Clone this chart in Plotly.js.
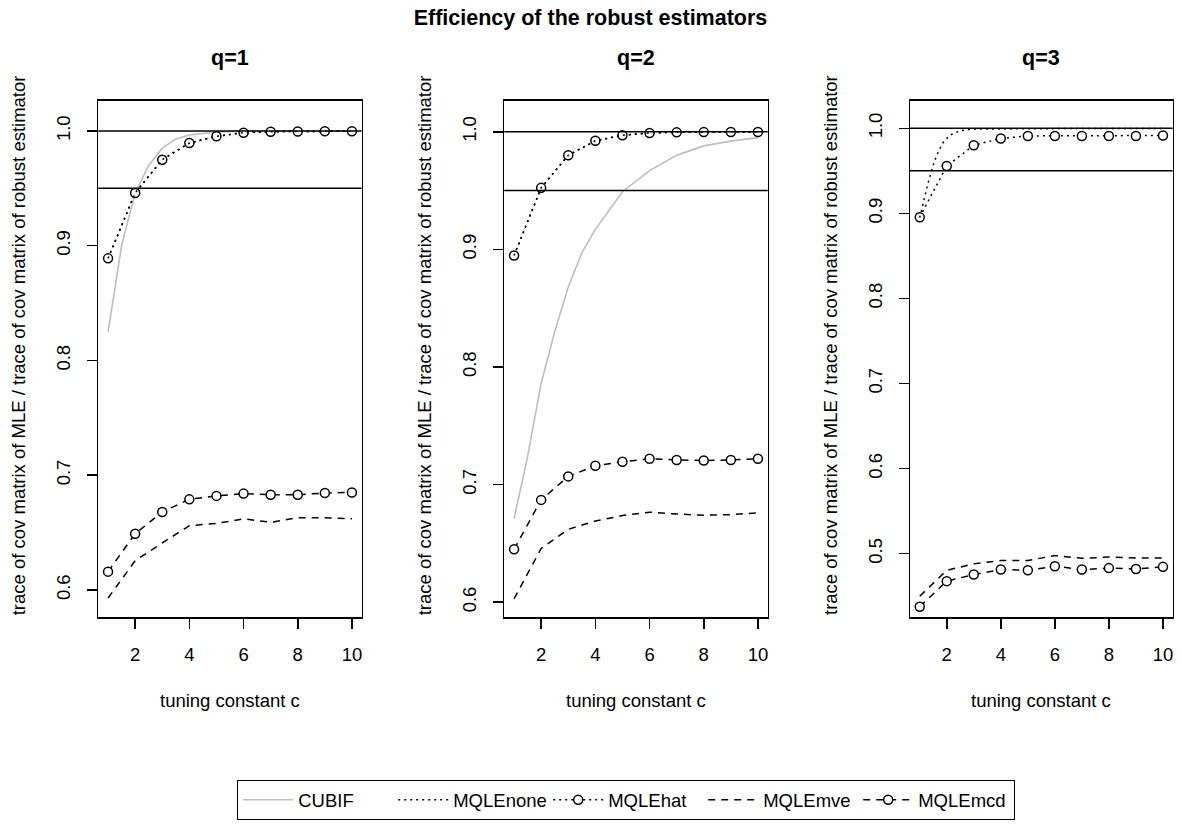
<!DOCTYPE html>
<html>
<head>
<meta charset="utf-8">
<script src="https://cdn.plot.ly/plotly-3.0.1.min.js"></script>
<style>html,body{margin:0;padding:0;background:#fff;}</style>
</head>
<body>
<div id="chart" style="width:1181px;height:827px;"></div>
<script>
// ---- data ----
const cVals = [1, 2, 3, 4, 5, 6, 7, 8, 9, 10];

// q = 1
const q1CubifC = [1, 1.5, 2, 2.5, 3, 3.5, 4, 5, 6, 7, 8, 9, 10];
const q1Cubif  = [0.825, 0.900, 0.946, 0.970, 0.985, 0.993, 0.9965, 0.999, 1.0, 1.0, 1.0, 1.0, 1.0];
const q1None   = [0.889, 0.946, 0.975, 0.9895, 0.9954, 0.9985, 0.9994, 0.9996, 0.9998, 0.9998];
const q1Hat    = [0.889, 0.946, 0.975, 0.9895, 0.9954, 0.9985, 0.9994, 0.9996, 0.9998, 0.9998];
const q1Mve    = [0.593, 0.6255, 0.641, 0.656, 0.658, 0.662, 0.659, 0.663, 0.663, 0.662];
const q1Mcd    = [0.616, 0.649, 0.668, 0.679, 0.682, 0.684, 0.683, 0.683, 0.6845, 0.685];

// q = 2
const q2CubifC = [1, 1.5, 2, 2.5, 3, 3.5, 4, 5, 6, 7, 8, 9, 10];
const q2Cubif  = [0.671, 0.724, 0.786, 0.830, 0.868, 0.897, 0.917, 0.949, 0.967, 0.980, 0.988, 0.992, 0.995];
const q2None   = [0.8948, 0.9523, 0.980, 0.9923, 0.997, 0.999, 0.9995, 0.9997, 0.9998, 0.9998];
const q2Hat    = [0.8948, 0.9523, 0.980, 0.9923, 0.997, 0.999, 0.9995, 0.9997, 0.9998, 0.9998];
const q2Mve    = [0.603, 0.6457, 0.662, 0.669, 0.6737, 0.6766, 0.675, 0.674, 0.6745, 0.676];
const q2Mcd    = [0.645, 0.687, 0.707, 0.716, 0.7195, 0.722, 0.721, 0.7205, 0.721, 0.722];

// q = 3
const q3NoneC  = [1, 1.14, 1.23, 1.32, 1.45, 1.54, 1.69, 1.88, 2.12, 2.49, 2.92, 4, 5, 6, 7, 8, 9, 10];
const q3None   = [0.895, 0.916, 0.9255, 0.937, 0.951, 0.961, 0.9725, 0.984, 0.992, 0.997, 0.999, 0.9995, 0.9996, 0.9996, 0.9996, 0.9996, 0.9996, 0.9996];
const q3Hat    = [0.8955, 0.9557, 0.980, 0.988, 0.991, 0.991, 0.991, 0.991, 0.991, 0.9915];
const q3Mve    = [0.450, 0.4805, 0.488, 0.492, 0.492, 0.4977, 0.4945, 0.496, 0.495, 0.495];
const q3Mcd    = [0.4377, 0.4677, 0.4755, 0.4813, 0.4805, 0.4852, 0.4813, 0.483, 0.482, 0.4845];

const panelTitles = ['q=1', 'q=2', 'q=3'];
const seriesNames = ['CUBIF', 'MQLEnone', 'MQLEhat', 'MQLEmve', 'MQLEmcd'];
const xTickVals = [2, 4, 6, 8, 10];
const yTickVals1 = [0.6, 0.7, 0.8, 0.9, 1.0];
const yTickVals3 = [0.5, 0.6, 0.7, 0.8, 0.9, 1.0];
const refLevels = [1.0, 0.95];

// ---- styling ----
const W = 1181, H = 827;
const FONT = 'Liberation Sans, Arial, Helvetica, sans-serif';
const FS = 18.5, FT = 21.5;
const DOT = '2px,4px';
const DASH = '7px,6px';
const markerStyle = {symbol: 'circle', size: 9, color: 'white', line: {color: 'black', width: 1.5}};

function px2x(p) { return p / W; }
function px2y(p) { return 1 - p / H; }

const panels = [
  {xl: 98.3, xr: 361.7, yr: [0.5762, 1.0264], yt: yTickVals1},
  {xl: 504.3, xr: 767.7, yr: [0.5872, 1.0264], yt: yTickVals1},
  {xl: 910.0, xr: 1172.7, yr: [0.4252, 1.0324], yt: yTickVals3}
];
const plotTop = 100.7, plotBottom = 617.3;

const data = [];
function addTraces(k, cub, cubC, noneC, none, hat, mve, mcd) {
  const xa = k === 0 ? 'x' : 'x' + (k + 1);
  const ya = k === 0 ? 'y' : 'y' + (k + 1);
  const show = k === 0;
  if (cub) {
    data.push({x: cubC, y: cub, xaxis: xa, yaxis: ya, type: 'scatter', mode: 'lines',
      name: seriesNames[0], legendrank: 1, showlegend: show,
      line: {color: '#bebebe', width: 1.6}});
  }
  data.push({x: cVals, y: hat, xaxis: xa, yaxis: ya, type: 'scatter', mode: 'lines+markers',
    name: seriesNames[2], legendrank: 3, showlegend: show,
    line: {color: 'black', width: 1.5, dash: DOT}, marker: markerStyle});
  data.push({x: noneC, y: none, xaxis: xa, yaxis: ya, type: 'scatter', mode: 'lines',
    name: seriesNames[1], legendrank: 2, showlegend: show,
    line: {color: 'black', width: 1.5, dash: DOT}});
  data.push({x: cVals, y: mve, xaxis: xa, yaxis: ya, type: 'scatter', mode: 'lines',
    name: seriesNames[3], legendrank: 4, showlegend: show,
    line: {color: 'black', width: 1.5, dash: DASH}});
  data.push({x: cVals, y: mcd, xaxis: xa, yaxis: ya, type: 'scatter', mode: 'lines+markers',
    name: seriesNames[4], legendrank: 5, showlegend: show,
    line: {color: 'black', width: 1.5, dash: DASH}, marker: markerStyle});
}
addTraces(0, q1Cubif, q1CubifC, cVals, q1None, q1Hat, q1Mve, q1Mcd);
addTraces(1, q2Cubif, q2CubifC, cVals, q2None, q2Hat, q2Mve, q2Mcd);
addTraces(2, null, null, q3NoneC, q3None, q3Hat, q3Mve, q3Mcd);

const layout = {
  width: W, height: H,
  margin: {l: 0, r: 0, t: 0, b: 0},
  paper_bgcolor: 'white', plot_bgcolor: 'white',
  font: {family: FONT, size: FS, color: 'black'},
  title: {text: '<b>Efficiency of the robust estimators</b>', x: 0.5, xanchor: 'center',
          y: 1 - 17 / H, yanchor: 'middle', yref: 'container', font: {family: FONT, size: FT, color: 'black'}},
  showlegend: true,
  legend: {orientation: 'h', x: px2x(237), y: px2y(800), xanchor: 'left', yanchor: 'middle',
           bordercolor: 'black', borderwidth: 1.2, bgcolor: 'white', itemwidth: 50,
           entrywidth: 90, entrywidthmode: 'pixels',
           font: {family: FONT, size: FS, color: 'black'}, traceorder: 'normal'},
  shapes: [],
  annotations: []
};

panels.forEach((p, k) => {
  const sx = k === 0 ? '' : String(k + 1);
  layout['xaxis' + sx] = {
    domain: [px2x(p.xl), px2x(p.xr)], anchor: 'y' + sx, range: [0.64, 10.36],
    tickvals: xTickVals, ticks: 'outside', ticklen: 10, tickwidth: 1.5, tickcolor: 'black',
    ticklabelstandoff: 10,
    showline: true, mirror: true, linecolor: 'black', linewidth: 1.5,
    showgrid: false, zeroline: false, tickfont: {family: FONT, size: FS, color: 'black'}
  };
  layout['yaxis' + sx] = {
    domain: [px2y(plotBottom), px2y(plotTop)], anchor: 'x' + sx, range: p.yr,
    tickvals: p.yt, tickformat: '.1f', tickangle: -90,
    ticks: 'outside', ticklen: 10, tickwidth: 1.5, tickcolor: 'black',
    ticklabelstandoff: 9,
    showline: true, mirror: true, linecolor: 'black', linewidth: 1.5,
    showgrid: false, zeroline: false, tickfont: {family: FONT, size: FS, color: 'black'}
  };
  refLevels.forEach(v => {
    layout.shapes.push({type: 'line', xref: 'x' + sx + ' domain', yref: 'y' + sx,
      x0: 0, x1: 1, y0: v, y1: v, line: {color: 'black', width: 1.5}, layer: 'above'});
  });
  const cx = (p.xl + p.xr) / 2;
  layout.annotations.push({text: '<b>' + panelTitles[k] + '</b>', xref: 'paper', yref: 'paper',
    x: px2x(cx), y: px2y(58), xanchor: 'center', yanchor: 'middle', showarrow: false,
    font: {family: FONT, size: FT, color: 'black'}});
  layout.annotations.push({text: 'tuning constant c', xref: 'paper', yref: 'paper',
    x: px2x(cx), y: px2y(700), xanchor: 'center', yanchor: 'middle', showarrow: false,
    font: {family: FONT, size: FS, color: 'black'}});
  layout.annotations.push({text: 'trace of cov matrix of MLE / trace of cov matrix of robust estimator',
    xref: 'paper', yref: 'paper', textangle: -90,
    x: px2x(p.xl - 79), y: px2y(345), xanchor: 'center', yanchor: 'middle',
    showarrow: false, font: {family: FONT, size: FS, color: 'black'}});
});

Plotly.newPlot('chart', data, layout, {displayModeBar: false, staticPlot: true});
</script>
</body>
</html>
